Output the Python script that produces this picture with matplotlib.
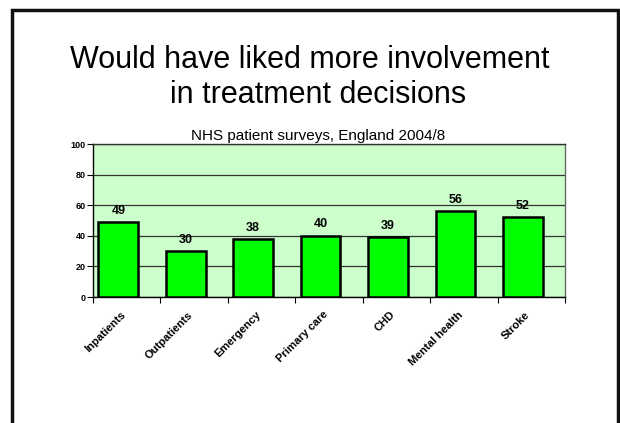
import matplotlib
matplotlib.use('Agg')
import matplotlib.pyplot as plt
from matplotlib.patches import Rectangle

# 数据
categories = ['Inpatients', 'Outpatients', 'Emergency', 'Primary care',
              'CHD', 'Mental health', 'Stroke']
values = [49, 30, 38, 40, 39, 56, 52]
y_ticks = [0, 20, 40, 60, 80, 100]

plt.rcParams['font.family'] = ['Liberation Sans', 'DejaVu Sans']

W, H = 620, 423
fig = plt.figure(figsize=(W / 100, H / 100), dpi=100)

# 幻灯片边框
fig.patches.append(Rectangle((11.5 / W, -0.05), (618 - 11.5) / W, 1.05 - 10 / H,
                             transform=fig.transFigure, fill=False,
                             edgecolor='#111111', linewidth=2.5))

# 标题
fig.text(0.5, 1 - 68 / H, 'Would have liked more involvement',
         ha='center', va='baseline', fontsize=22)
fig.text(318 / W, 1 - 103 / H, 'in treatment decisions',
         ha='center', va='baseline', fontsize=22)

ax = fig.add_axes([93 / W, 1 - 297 / H, (565 - 93) / W, (297 - 144) / H])
ax.set_facecolor('#CCFFCC')

# 柱子在类别内略偏左（与原图一致）
shift = -0.125
x = [i + shift for i in range(len(categories))]
bars = ax.bar(x, values, width=0.59, color='#00FF00', edgecolor='black',
              linewidth=1.8, zorder=3)
for b, v in zip(bars, values):
    ax.annotate(str(v), xy=(b.get_x() + b.get_width() / 2, v),
                xytext=(0, 6), textcoords='offset points',
                ha='center', va='baseline', fontsize=9, fontweight='bold')

ax.set_xlim(-0.5, len(categories) - 0.5)
ax.set_ylim(0, 100)
ax.set_yticks(y_ticks)
ax.set_yticklabels([str(t) for t in y_ticks], fontsize=6.5, fontweight='bold')
ax.yaxis.grid(True, color='#333333', linewidth=0.9, zorder=1)
ax.set_axisbelow(True)

# x轴刻度在类别之间
ax.set_xticks([i - 0.5 for i in range(len(categories) + 1)])
ax.set_xticklabels([])
ax.tick_params(axis='x', length=4, width=0.8, direction='out')
ax.tick_params(axis='y', length=4, width=0.8, direction='out', pad=1.5)
for xi, c in zip(x, categories):
    ax.annotate(c, xy=(xi, 0), xytext=(1.5, -9), textcoords='offset points',
                rotation=45, ha='right', va='top', rotation_mode='anchor',
                fontsize=8, fontweight='bold')

ax.spines['left'].set_color('black')
ax.spines['bottom'].set_color('black')
ax.spines['top'].set_color('#333333')
ax.spines['right'].set_color('#666666')
for s in ax.spines.values():
    s.set_linewidth(1.0)

fig.text(318 / W, 1 - 140 / H, 'NHS patient surveys, England 2004/8',
         ha='center', va='baseline', fontsize=11)

fig.savefig('out.png', dpi=100)
